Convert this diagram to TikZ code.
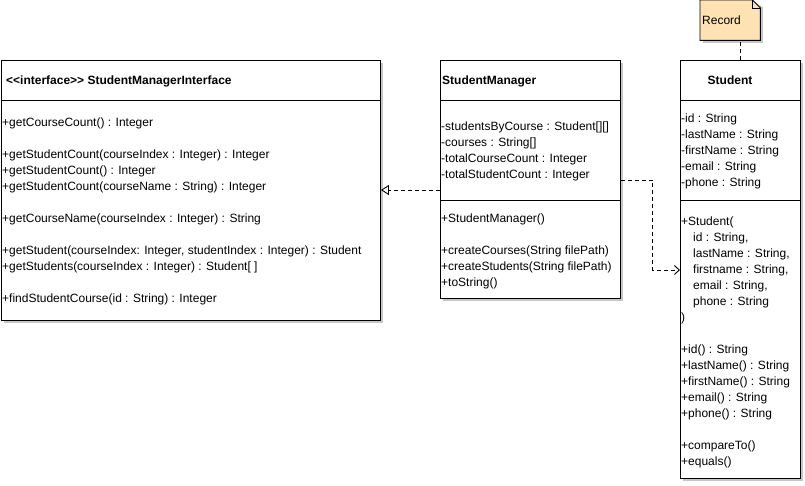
\documentclass[tikz,border=0pt]{standalone}
\usepackage{fontspec}
\setmainfont{Liberation Sans}
\usetikzlibrary{arrows.meta,shadows}
\definecolor{notefill}{RGB}{255,226,180}
\tikzset{
    class-box/.style = {draw=black, fill=white, line width=0.9pt, rectangle, anchor=north west, inner sep=0pt,
        drop shadow={shadow xshift=3pt, shadow yshift=-3pt, fill=black!22, opacity=1}},
    class-title/.style = {font=\fontsize{12}{16}\selectfont\bfseries, inner sep=0pt, anchor=base west},
    member-list/.style = {font=\fontsize{12}{16}\selectfont, align=left, inner sep=0pt, anchor=base west},
    note-box/.style = {fill=notefill, rectangle, anchor=north west, inner sep=0pt,
        drop shadow={shadow xshift=3pt, shadow yshift=-3pt, fill=black!22, opacity=1}},
    uml-dash/.style = {line width=0.9pt, dash pattern=on 4pt off 3pt},
}

\begin{document}
\begin{tikzpicture}[x=1pt, y=-1pt]
\useasboundingbox (0,0) rectangle (805,485);
% interface
\node [class-box, minimum width=379pt, minimum height=260pt] (iface) at (1,60) {};
\draw [line width=0.9pt] ([yshift=-40pt]iface.north west) -- ([yshift=-40pt]iface.north east);
\node [class-title] at (6,84) {<{}<interface>{}> StudentManagerInterface};
% (anchored at the baseline of the last line)
\node [member-list] at (2,302) {+getCourseCount() : Integer\\[16pt]
    +getStudentCount(courseIndex : Integer) : Integer\\
    +getStudentCount() : Integer\\
    +getStudentCount(courseName : String) : Integer\\[16pt]
    +getCourseName(courseIndex : Integer) : String\\[16pt]
    +getStudent(courseIndex: Integer, studentIndex : Integer) : Student\\
    +getStudents(courseIndex : Integer) : Student[ ]\\[16pt]
    +findStudentCourse(id : String) : Integer};

% manager
\node [class-box, minimum width=180pt, minimum height=238pt] (mgr) at (440,60) {};
\draw [line width=0.9pt] ([yshift=-40pt]mgr.north west) -- ([yshift=-40pt]mgr.north east);
\draw [line width=0.9pt] ([yshift=-140pt]mgr.north west) -- ([yshift=-140pt]mgr.north east);
\node [class-title] at (442,84) {StudentManager};
\node [member-list] at (441,178) {-studentsByCourse : Student[][]\\
    -courses : String[]\\
    -totalCourseCount : Integer\\
    -totalStudentCount : Integer};
\node [member-list] at (441,286) {+StudentManager()\\[16pt]
    +createCourses(String filePath)\\
    +createStudents(String filePath)\\
    +toString()};

% student
\node [class-box, minimum width=120pt, minimum height=418pt] (stu) at (680,60) {};
\draw [line width=0.9pt] ([yshift=-40pt]stu.north west) -- ([yshift=-40pt]stu.north east);
\draw [line width=0.9pt] ([yshift=-140pt]stu.north west) -- ([yshift=-140pt]stu.north east);
\node [class-title, anchor=base] at (730,84) {Student};
\node [member-list] at (681,186) {-id : String\\
    -lastName : String\\
    -firstName : String\\
    -email : String\\
    -phone : String};
\node [member-list] at (681,465) {+Student(\\
    \hspace*{12pt}id : String,\\
    \hspace*{12pt}lastName : String,\\
    \hspace*{12pt}firstname : String,\\
    \hspace*{12pt}email : String,\\
    \hspace*{12pt}phone : String\\
    )\\[16pt]
    +id() : String\\
    +lastName() : String\\
    +firstName() : String\\
    +email() : String\\
    +phone() : String\\[16pt]
    +compareTo()\\
    +equals()};

% note
\node [note-box, minimum width=60pt, minimum height=40pt] (rec) at (700,0) {};
\fill [white] ([xshift=-8pt]rec.north east) -- ([xshift=4pt]rec.north east) -- ([xshift=4pt,yshift=-8pt]rec.north east) -- cycle;
\draw [line width=0.9pt] (rec.north west) -- ([xshift=-8pt]rec.north east) -- ([yshift=-8pt]rec.north east)
    -- (rec.south east) -- (rec.south west) -- cycle;
\draw [line width=0.6pt] ([xshift=-8pt]rec.north east) |- ([yshift=-8pt]rec.north east);
\node [member-list] at (702,24) {Record};

% connectors
\draw [uml-dash] (stu.north) -- (stu.north |- rec.south);
\draw [uml-dash, -{Triangle[open, length=8pt, width=10pt, line width=0.9pt]}]
    ([yshift=-130pt]mgr.north west) -- ([yshift=-130pt]iface.north east);
\draw [uml-dash, -{Straight Barb[length=5pt, width=9pt, line width=0.9pt]}]
    ([yshift=-120pt]mgr.north east) -- ++(32,0) |- ([yshift=-210pt]stu.north west);
\end{tikzpicture}
\end{document}
